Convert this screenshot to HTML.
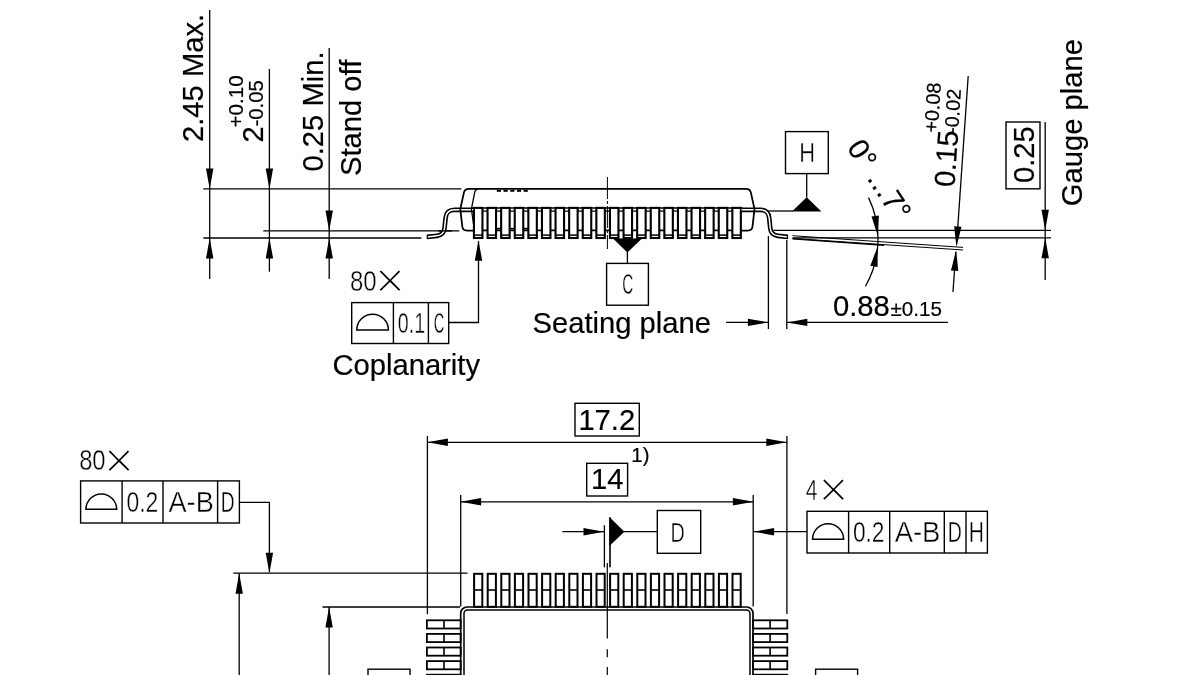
<!DOCTYPE html>
<html lang="en"><head><meta charset="utf-8"><title>Package outline drawing</title>
<style>
html,body{margin:0;padding:0;background:#fff;}
body{width:1200px;height:675px;overflow:hidden;}
svg{display:block;filter:grayscale(1);}
svg line,svg path,svg rect{stroke:#000;}
text.a{font-family:"Liberation Sans",Arial,Helvetica,sans-serif;fill:#000;stroke:#000;stroke-width:0.2px;}
text.d{font-family:"Liberation Sans",Arial,Helvetica,sans-serif;fill:#000;stroke:#fff;paint-order:fill stroke;}
</style></head><body>
<svg width="1200" height="675" viewBox="0 0 1200 675">
<rect x="0" y="0" width="1200" height="675" fill="#fff" stroke="none" style="stroke:none"/>
<line x1="203.30" y1="188.90" x2="461.30" y2="188.90" stroke-width="1.3" />
<line x1="263.30" y1="230.90" x2="459.30" y2="230.90" stroke-width="1.3" />
<line x1="203.30" y1="238.00" x2="421.30" y2="238.00" stroke-width="1.3" />
<line x1="209.70" y1="10.00" x2="209.70" y2="279.00" stroke-width="1.3" />
<line x1="269.40" y1="69.00" x2="269.40" y2="271.70" stroke-width="1.3" />
<line x1="329.20" y1="48.00" x2="329.20" y2="279.00" stroke-width="1.3" />
<polygon points="209.70,188.90 206.00,168.40 213.40,168.40" fill="#000" stroke="none"/>
<polygon points="209.70,238.00 213.40,258.50 206.00,258.50" fill="#000" stroke="none"/>
<polygon points="269.40,188.90 265.70,168.40 273.10,168.40" fill="#000" stroke="none"/>
<polygon points="269.40,238.00 273.10,258.50 265.70,258.50" fill="#000" stroke="none"/>
<polygon points="329.20,230.90 325.50,210.40 332.90,210.40" fill="#000" stroke="none"/>
<polygon points="329.20,238.00 332.90,258.50 325.50,258.50" fill="#000" stroke="none"/>
<text class="a" x="203.00" y="142.00" font-size="29.2" text-anchor="start" transform="rotate(-90 203.00 142.00)" >2.45 Max.</text>
<text class="a" x="263.30" y="142.60" font-size="29.2" text-anchor="start" transform="rotate(-90 263.30 142.60)" >2</text>
<text class="a" x="242.70" y="127.40" font-size="20.6" text-anchor="start" transform="rotate(-90 242.70 127.40)" >+0.10</text>
<text class="a" x="263.30" y="126.60" font-size="20.400000000000002" text-anchor="start" transform="rotate(-90 263.30 126.60)" >-0.05</text>
<text class="a" x="323.00" y="171.50" font-size="29.2" text-anchor="start" transform="rotate(-90 323.00 171.50)" >0.25 Min.</text>
<text class="a" x="360.70" y="176.00" font-size="29.2" text-anchor="start" transform="rotate(-90 360.70 176.00)" >Stand off</text>
<line x1="472.50" y1="207.90" x2="742.30" y2="207.90" stroke-width="1.5" />
<line x1="472.50" y1="211.20" x2="742.30" y2="211.20" stroke-width="1.3" />
<line x1="473.00" y1="230.40" x2="742.00" y2="230.40" stroke-width="1.6" />
<line x1="496.80" y1="190.80" x2="501.00" y2="190.80" stroke-width="2.0" />
<line x1="496.80" y1="228.60" x2="501.00" y2="228.60" stroke-width="1.6" />
<line x1="503.50" y1="190.80" x2="507.70" y2="190.80" stroke-width="2.0" />
<line x1="503.50" y1="228.60" x2="507.70" y2="228.60" stroke-width="1.6" />
<line x1="510.20" y1="190.80" x2="514.40" y2="190.80" stroke-width="2.0" />
<line x1="510.20" y1="228.60" x2="514.40" y2="228.60" stroke-width="1.6" />
<line x1="516.90" y1="190.80" x2="521.10" y2="190.80" stroke-width="2.0" />
<line x1="516.90" y1="228.60" x2="521.10" y2="228.60" stroke-width="1.6" />
<line x1="523.60" y1="190.80" x2="527.80" y2="190.80" stroke-width="2.0" />
<line x1="523.60" y1="228.60" x2="527.80" y2="228.60" stroke-width="1.6" />
<rect x="473.95" y="207.9" width="8.5" height="30.1" fill="#fff" stroke-width="2.1"/>
<line x1="474.10" y1="235.10" x2="482.30" y2="235.10" stroke-width="1.5" />
<rect x="487.55" y="207.9" width="8.5" height="30.1" fill="#fff" stroke-width="2.1"/>
<line x1="487.70" y1="235.10" x2="495.90" y2="235.10" stroke-width="1.5" />
<rect x="501.15" y="207.9" width="8.5" height="30.1" fill="#fff" stroke-width="2.1"/>
<line x1="501.30" y1="235.10" x2="509.50" y2="235.10" stroke-width="1.5" />
<rect x="514.75" y="207.9" width="8.5" height="30.1" fill="#fff" stroke-width="2.1"/>
<line x1="514.90" y1="235.10" x2="523.10" y2="235.10" stroke-width="1.5" />
<rect x="528.35" y="207.9" width="8.5" height="30.1" fill="#fff" stroke-width="2.1"/>
<line x1="528.50" y1="235.10" x2="536.70" y2="235.10" stroke-width="1.5" />
<rect x="541.95" y="207.9" width="8.5" height="30.1" fill="#fff" stroke-width="2.1"/>
<line x1="542.10" y1="235.10" x2="550.30" y2="235.10" stroke-width="1.5" />
<rect x="555.55" y="207.9" width="8.5" height="30.1" fill="#fff" stroke-width="2.1"/>
<line x1="555.70" y1="235.10" x2="563.90" y2="235.10" stroke-width="1.5" />
<rect x="569.15" y="207.9" width="8.5" height="30.1" fill="#fff" stroke-width="2.1"/>
<line x1="569.30" y1="235.10" x2="577.50" y2="235.10" stroke-width="1.5" />
<rect x="582.75" y="207.9" width="8.5" height="30.1" fill="#fff" stroke-width="2.1"/>
<line x1="582.90" y1="235.10" x2="591.10" y2="235.10" stroke-width="1.5" />
<rect x="596.35" y="207.9" width="8.5" height="30.1" fill="#fff" stroke-width="2.1"/>
<line x1="596.50" y1="235.10" x2="604.70" y2="235.10" stroke-width="1.5" />
<rect x="609.95" y="207.9" width="8.5" height="30.1" fill="#fff" stroke-width="2.1"/>
<line x1="610.10" y1="235.10" x2="618.30" y2="235.10" stroke-width="1.5" />
<rect x="623.55" y="207.9" width="8.5" height="30.1" fill="#fff" stroke-width="2.1"/>
<line x1="623.70" y1="235.10" x2="631.90" y2="235.10" stroke-width="1.5" />
<rect x="637.15" y="207.9" width="8.5" height="30.1" fill="#fff" stroke-width="2.1"/>
<line x1="637.30" y1="235.10" x2="645.50" y2="235.10" stroke-width="1.5" />
<rect x="650.75" y="207.9" width="8.5" height="30.1" fill="#fff" stroke-width="2.1"/>
<line x1="650.90" y1="235.10" x2="659.10" y2="235.10" stroke-width="1.5" />
<rect x="664.35" y="207.9" width="8.5" height="30.1" fill="#fff" stroke-width="2.1"/>
<line x1="664.50" y1="235.10" x2="672.70" y2="235.10" stroke-width="1.5" />
<rect x="677.95" y="207.9" width="8.5" height="30.1" fill="#fff" stroke-width="2.1"/>
<line x1="678.10" y1="235.10" x2="686.30" y2="235.10" stroke-width="1.5" />
<rect x="691.55" y="207.9" width="8.5" height="30.1" fill="#fff" stroke-width="2.1"/>
<line x1="691.70" y1="235.10" x2="699.90" y2="235.10" stroke-width="1.5" />
<rect x="705.15" y="207.9" width="8.5" height="30.1" fill="#fff" stroke-width="2.1"/>
<line x1="705.30" y1="235.10" x2="713.50" y2="235.10" stroke-width="1.5" />
<rect x="718.75" y="207.9" width="8.5" height="30.1" fill="#fff" stroke-width="2.1"/>
<line x1="718.90" y1="235.10" x2="727.10" y2="235.10" stroke-width="1.5" />
<rect x="732.35" y="207.9" width="8.5" height="30.1" fill="#fff" stroke-width="2.1"/>
<line x1="732.50" y1="235.10" x2="740.70" y2="235.10" stroke-width="1.5" />
<path d="M473.3,209.8 L454.5,209.8 C448.5,209.8 446.2,212.5 445.6,218 L444.5,228.5 C444.0,233 441.5,235.2 437.0,235.8 L427.2,236.9" stroke-width="4.7" fill="none" stroke-linecap="butt"/>
<path d="M473.3,209.8 L454.5,209.8 C448.5,209.8 446.2,212.5 445.6,218 L444.5,228.5 C444.0,233 441.5,235.2 437.0,235.8 L427.2,236.9" stroke-width="1.5" fill="none" style="stroke:#fff" stroke-linecap="butt"/>
<line x1="427.30" y1="234.80" x2="427.30" y2="239.00" stroke-width="1.2" />
<path d="M741.5,209.8 L760.3,209.8 C766.3,209.8 768.5999999999999,212.5 769.1999999999999,218 L770.3,228.5 C770.8,233 773.3,235.2 777.8,235.8 L787.5999999999999,236.9" stroke-width="4.7" fill="none" stroke-linecap="butt"/>
<path d="M741.5,209.8 L760.3,209.8 C766.3,209.8 768.5999999999999,212.5 769.1999999999999,218 L770.3,228.5 C770.8,233 773.3,235.2 777.8,235.8 L787.5999999999999,236.9" stroke-width="1.5" fill="none" style="stroke:#fff" stroke-linecap="butt"/>
<line x1="787.50" y1="234.80" x2="787.50" y2="239.00" stroke-width="1.2" />
<line x1="438.00" y1="230.90" x2="452.00" y2="230.90" stroke-width="1.3" />
<path d="M607.4,188.9 L468.8,188.9 Q464.8,188.9 463.9,192.6 L460.3,209 L462.3,226.5 Q462.8,230.6 467.0,230.6 L473.3,230.6" stroke-width="1.8" fill="none" />
<path d="M478.5,188.9 Q475.5,189.1 474.8,191.9 L471.4,209 L473.5,224" stroke-width="1.3" fill="none" />
<path d="M607.4,188.9 L746.0,188.9 Q750.0,188.9 750.9,192.6 L754.5,209 L752.5,226.5 Q752.0,230.6 747.8,230.6 L741.5,230.6" stroke-width="1.8" fill="none" />
<line x1="607.40" y1="177.00" x2="607.40" y2="249.00" stroke-width="1.0" stroke-dasharray="22 2 3 2"/>
<polygon points="613,238.6 642,238.6 627.4,252.4" fill="#000" stroke="none"/>
<line x1="627.40" y1="252.00" x2="627.40" y2="263.00" stroke-width="1.3" />
<rect x="606.60" y="263.40" width="41.80" height="41.80" stroke-width="1.4" fill="none"/>
<text class="d" transform="translate(622.14 293.90) scale(0.5104 1)" font-size="29.86" stroke-width="0.4">C</text>
<line x1="767.00" y1="211.00" x2="793.00" y2="211.00" stroke-width="1.3" />
<polygon points="792,211.4 821.4,211.4 806.7,197.2" fill="#000" stroke="none"/>
<line x1="806.70" y1="197.50" x2="806.70" y2="173.50" stroke-width="1.3" />
<rect x="785.50" y="131.60" width="42.80" height="42.00" stroke-width="1.4" fill="none"/>
<text class="d" transform="translate(799.26 162.00) scale(0.7912 1)" font-size="27.54" stroke-width="0.4">H</text>
<text class="d" transform="translate(349.92 290.80) scale(0.8364 1)" font-size="28.70" stroke-width="0.4">80</text>
<text class="d" x="374.65" y="298.03" font-size="52.13" stroke-width="1.9">×</text>
<rect x="351.70" y="302.60" width="97.00" height="40.90" stroke-width="1.4" fill="none"/>
<line x1="393.40" y1="302.60" x2="393.40" y2="343.50" stroke-width="1.4" />
<line x1="428.40" y1="302.60" x2="428.40" y2="343.50" stroke-width="1.4" />
<path d="M356.8,330 A15.799999999999983,15.799999999999983 0 0 1 388.4,330 Z" stroke-width="1.5" fill="none" />
<text class="d" transform="translate(397.71 332.80) scale(0.6862 1)" font-size="28.70" stroke-width="0.4">0.1</text>
<text class="d" transform="translate(433.77 332.80) scale(0.5089 1)" font-size="28.70" stroke-width="0.4">C</text>
<path d="M448.7,322.5 L478.5,322.5 L478.5,241" stroke-width="1.3" fill="none" />
<polygon points="478.50,240.20 482.20,260.70 474.80,260.70" fill="#000" stroke="none"/>
<text class="a" x="332.40" y="375.00" font-size="29.2" text-anchor="start" >Coplanarity</text>
<text class="a" x="532.50" y="332.50" font-size="29.2" text-anchor="start" >Seating plane</text>
<line x1="726.00" y1="322.40" x2="768.40" y2="322.40" stroke-width="1.3" />
<polygon points="768.40,322.40 747.90,326.10 747.90,318.70" fill="#000" stroke="none"/>
<line x1="786.80" y1="322.40" x2="948.00" y2="322.40" stroke-width="1.3" />
<polygon points="786.80,322.40 807.30,318.70 807.30,326.10" fill="#000" stroke="none"/>
<line x1="768.40" y1="236.00" x2="768.40" y2="329.00" stroke-width="1.3" />
<line x1="786.80" y1="240.00" x2="786.80" y2="329.00" stroke-width="1.3" />
<text class="a" x="833.00" y="316.00" font-size="29.2" text-anchor="start" >0.88</text>
<text class="a" x="890.50" y="316.00" font-size="20.6" text-anchor="start" >±0.15</text>
<line x1="773.50" y1="230.30" x2="1051.00" y2="230.30" stroke-width="1.3" />
<line x1="792.50" y1="237.80" x2="1051.00" y2="237.80" stroke-width="1.3" />
<line x1="792.50" y1="235.70" x2="963.00" y2="247.40" stroke-width="1.0" />
<line x1="792.50" y1="238.40" x2="963.00" y2="250.00" stroke-width="1.0" />
<line x1="792.50" y1="238.90" x2="884.00" y2="245.30" stroke-width="1.4" />
<path d="M868.53,197.65 A95,95 0 0 1 865.44,286.21" stroke-width="1.3" fill="none" />
<polygon points="877.96,236.35 871.52,216.54 878.85,215.54" fill="#000" stroke="none"/>
<polygon points="877.72,246.29 877.59,267.12 870.32,265.76" fill="#000" stroke="none"/>
<text class="a" x="846.20" y="147.80" font-size="29.2" text-anchor="start" transform="rotate(56.5 846.20 147.80)" letter-spacing="0.25">0° ...7°</text>
<line x1="968.20" y1="76.00" x2="956.60" y2="244.00" stroke-width="1.3" />
<polygon points="956.40,247.00 954.15,226.29 961.53,226.81" fill="#000" stroke="none"/>
<line x1="953.00" y1="292.00" x2="955.80" y2="252.00" stroke-width="1.3" />
<polygon points="956.10,250.20 958.35,270.91 950.97,270.39" fill="#000" stroke="none"/>
<text class="a" x="954.40" y="187.60" font-size="29.2" text-anchor="start" transform="rotate(-86 954.40 187.60)" >0.15</text>
<text class="a" x="937.60" y="133.00" font-size="19.8" text-anchor="start" transform="rotate(-86 937.60 133.00)" >+0.08</text>
<text class="a" x="958.00" y="134.20" font-size="19.8" text-anchor="start" transform="rotate(-86 958.00 134.20)" >-0.02</text>
<rect x="1006.00" y="122.00" width="34.00" height="66.80" stroke-width="1.4" fill="none"/>
<text class="a" x="1034.00" y="183.00" font-size="29.2" text-anchor="start" transform="rotate(-90 1034.00 183.00)" >0.25</text>
<line x1="1045.20" y1="122.00" x2="1045.20" y2="280.00" stroke-width="1.3" />
<polygon points="1045.20,230.30 1041.50,209.80 1048.90,209.80" fill="#000" stroke="none"/>
<polygon points="1045.20,237.80 1048.90,258.30 1041.50,258.30" fill="#000" stroke="none"/>
<text class="a" x="1082.00" y="206.20" font-size="29.2" text-anchor="start" transform="rotate(-90 1082.00 206.20)" >Gauge plane</text>
<line x1="427.40" y1="436.00" x2="427.40" y2="614.20" stroke-width="1.3" />
<line x1="786.90" y1="436.00" x2="786.90" y2="614.00" stroke-width="1.3" />
<line x1="427.40" y1="442.30" x2="786.80" y2="442.30" stroke-width="1.3" />
<polygon points="427.40,442.30 447.90,438.60 447.90,446.00" fill="#000" stroke="none"/>
<polygon points="786.80,442.30 766.30,446.00 766.30,438.60" fill="#000" stroke="none"/>
<rect x="575.00" y="403.30" width="64.30" height="32.70" stroke-width="1.4" fill="none"/>
<text class="a" x="606.80" y="429.90" font-size="29.2" text-anchor="middle" >17.2</text>
<line x1="460.70" y1="495.00" x2="460.70" y2="606.50" stroke-width="1.3" />
<line x1="753.20" y1="495.00" x2="753.20" y2="606.50" stroke-width="1.3" />
<line x1="460.60" y1="501.80" x2="753.40" y2="501.80" stroke-width="1.3" />
<polygon points="460.60,501.80 481.10,498.10 481.10,505.50" fill="#000" stroke="none"/>
<polygon points="753.40,501.80 732.90,505.50 732.90,498.10" fill="#000" stroke="none"/>
<rect x="586.70" y="463.30" width="40.90" height="32.70" stroke-width="1.4" fill="none"/>
<text class="a" x="607.20" y="489.20" font-size="29.2" text-anchor="middle" >14</text>
<text class="a" x="631.30" y="461.90" font-size="20.400000000000002" text-anchor="start" >1)</text>
<line x1="562.30" y1="531.70" x2="604.00" y2="531.70" stroke-width="1.3" />
<polygon points="604.00,531.70 583.50,535.40 583.50,528.00" fill="#000" stroke="none"/>
<line x1="604.40" y1="525.30" x2="604.40" y2="567.30" stroke-width="1.3" />
<line x1="610.00" y1="517.30" x2="610.00" y2="567.30" stroke-width="1.6" />
<polygon points="609.4,517 624.4,531.7 609.4,546" fill="#000" stroke="none"/>
<line x1="624.00" y1="531.70" x2="657.30" y2="531.70" stroke-width="1.3" />
<rect x="657.30" y="510.50" width="43.40" height="42.80" stroke-width="1.4" fill="none"/>
<text class="d" transform="translate(670.41 541.60) scale(0.7202 1)" font-size="27.54" stroke-width="0.4">D</text>
<line x1="607.30" y1="563.00" x2="607.30" y2="676.00" stroke-width="1.2" stroke-dasharray="75.6 10.7 8 9.7"/>
<text class="d" transform="translate(805.87 499.70) scale(0.7388 1)" font-size="28.70" stroke-width="0.4">4</text>
<text class="d" x="818.25" y="507.03" font-size="52.13" stroke-width="1.9">×</text>
<rect x="807.00" y="511.30" width="180.40" height="41.70" stroke-width="1.4" fill="none"/>
<line x1="848.60" y1="511.30" x2="848.60" y2="553.00" stroke-width="1.4" />
<line x1="889.70" y1="511.30" x2="889.70" y2="553.00" stroke-width="1.4" />
<line x1="944.30" y1="511.30" x2="944.30" y2="553.00" stroke-width="1.4" />
<line x1="966.00" y1="511.30" x2="966.00" y2="553.00" stroke-width="1.4" />
<path d="M812.6,539.3 A15.5,15.5 0 0 1 843.6,539.3 Z" stroke-width="1.5" fill="none" />
<text class="d" transform="translate(852.89 542.00) scale(0.7935 1)" font-size="28.70" stroke-width="0.4">0.2</text>
<text class="d" transform="translate(894.66 542.00) scale(0.9567 1)" font-size="28.70" stroke-width="0.4">A-B</text>
<text class="d" transform="translate(947.64 542.00) scale(0.6794 1)" font-size="28.70" stroke-width="0.4">D</text>
<text class="d" transform="translate(968.71 542.00) scale(0.7343 1)" font-size="28.70" stroke-width="0.4">H</text>
<line x1="806.70" y1="531.70" x2="754.00" y2="531.70" stroke-width="1.3" />
<polygon points="753.60,531.70 774.10,528.00 774.10,535.40" fill="#000" stroke="none"/>
<text class="d" transform="translate(79.13 470.20) scale(0.8296 1)" font-size="28.70" stroke-width="0.4">80</text>
<text class="d" x="103.65" y="477.53" font-size="52.13" stroke-width="1.9">×</text>
<rect x="80.60" y="480.90" width="158.80" height="42.10" stroke-width="1.4" fill="none"/>
<line x1="122.10" y1="480.90" x2="122.10" y2="523.00" stroke-width="1.4" />
<line x1="163.00" y1="480.90" x2="163.00" y2="523.00" stroke-width="1.4" />
<line x1="217.60" y1="480.90" x2="217.60" y2="523.00" stroke-width="1.4" />
<path d="M85.9,509.3 A15.399999999999999,15.399999999999999 0 0 1 116.7,509.3 Z" stroke-width="1.5" fill="none" />
<text class="d" transform="translate(126.38 511.90) scale(0.7988 1)" font-size="28.70" stroke-width="0.4">0.2</text>
<text class="d" transform="translate(168.46 511.90) scale(0.9481 1)" font-size="28.70" stroke-width="0.4">A-B</text>
<text class="d" transform="translate(220.67 511.90) scale(0.6677 1)" font-size="28.70" stroke-width="0.4">D</text>
<path d="M240,502.3 L269.4,502.3 L269.4,572" stroke-width="1.3" fill="none" />
<polygon points="269.40,573.20 265.70,552.70 273.10,552.70" fill="#000" stroke="none"/>
<line x1="233.20" y1="573.20" x2="467.50" y2="573.20" stroke-width="1.3" />
<line x1="239.20" y1="573.20" x2="239.20" y2="675.00" stroke-width="1.3" />
<polygon points="239.20,573.20 242.90,593.70 235.50,593.70" fill="#000" stroke="none"/>
<line x1="322.50" y1="607.00" x2="460.00" y2="607.00" stroke-width="1.3" />
<line x1="329.10" y1="607.00" x2="329.10" y2="675.00" stroke-width="1.3" />
<polygon points="329.10,607.00 332.80,627.50 325.40,627.50" fill="#000" stroke="none"/>
<rect x="368.00" y="669.20" width="42.00" height="30.80" stroke-width="1.4" fill="none"/>
<rect x="815.60" y="669.20" width="42.00" height="30.80" stroke-width="1.4" fill="none"/>
<rect x="460.7" y="607.0" width="292.3" height="120" rx="6.3" ry="6.3" fill="none" stroke-width="1.7"/>
<rect x="464.0" y="609.9" width="286" height="120" rx="3.5" ry="3.5" fill="none" stroke-width="1.5"/>
<rect x="474.10" y="573.8" width="8.2" height="33" fill="none" stroke-width="2.0"/>
<line x1="474.10" y1="590.00" x2="482.30" y2="590.00" stroke-width="1.6" />
<rect x="487.70" y="573.8" width="8.2" height="33" fill="none" stroke-width="2.0"/>
<line x1="487.70" y1="590.00" x2="495.90" y2="590.00" stroke-width="1.6" />
<rect x="501.30" y="573.8" width="8.2" height="33" fill="none" stroke-width="2.0"/>
<line x1="501.30" y1="590.00" x2="509.50" y2="590.00" stroke-width="1.6" />
<rect x="514.90" y="573.8" width="8.2" height="33" fill="none" stroke-width="2.0"/>
<line x1="514.90" y1="590.00" x2="523.10" y2="590.00" stroke-width="1.6" />
<rect x="528.50" y="573.8" width="8.2" height="33" fill="none" stroke-width="2.0"/>
<line x1="528.50" y1="590.00" x2="536.70" y2="590.00" stroke-width="1.6" />
<rect x="542.10" y="573.8" width="8.2" height="33" fill="none" stroke-width="2.0"/>
<line x1="542.10" y1="590.00" x2="550.30" y2="590.00" stroke-width="1.6" />
<rect x="555.70" y="573.8" width="8.2" height="33" fill="none" stroke-width="2.0"/>
<line x1="555.70" y1="590.00" x2="563.90" y2="590.00" stroke-width="1.6" />
<rect x="569.30" y="573.8" width="8.2" height="33" fill="none" stroke-width="2.0"/>
<line x1="569.30" y1="590.00" x2="577.50" y2="590.00" stroke-width="1.6" />
<rect x="582.90" y="573.8" width="8.2" height="33" fill="none" stroke-width="2.0"/>
<line x1="582.90" y1="590.00" x2="591.10" y2="590.00" stroke-width="1.6" />
<rect x="596.50" y="573.8" width="8.2" height="33" fill="none" stroke-width="2.0"/>
<line x1="596.50" y1="590.00" x2="604.70" y2="590.00" stroke-width="1.6" />
<rect x="610.10" y="573.8" width="8.2" height="33" fill="none" stroke-width="2.0"/>
<line x1="610.10" y1="590.00" x2="618.30" y2="590.00" stroke-width="1.6" />
<rect x="623.70" y="573.8" width="8.2" height="33" fill="none" stroke-width="2.0"/>
<line x1="623.70" y1="590.00" x2="631.90" y2="590.00" stroke-width="1.6" />
<rect x="637.30" y="573.8" width="8.2" height="33" fill="none" stroke-width="2.0"/>
<line x1="637.30" y1="590.00" x2="645.50" y2="590.00" stroke-width="1.6" />
<rect x="650.90" y="573.8" width="8.2" height="33" fill="none" stroke-width="2.0"/>
<line x1="650.90" y1="590.00" x2="659.10" y2="590.00" stroke-width="1.6" />
<rect x="664.50" y="573.8" width="8.2" height="33" fill="none" stroke-width="2.0"/>
<line x1="664.50" y1="590.00" x2="672.70" y2="590.00" stroke-width="1.6" />
<rect x="678.10" y="573.8" width="8.2" height="33" fill="none" stroke-width="2.0"/>
<line x1="678.10" y1="590.00" x2="686.30" y2="590.00" stroke-width="1.6" />
<rect x="691.70" y="573.8" width="8.2" height="33" fill="none" stroke-width="2.0"/>
<line x1="691.70" y1="590.00" x2="699.90" y2="590.00" stroke-width="1.6" />
<rect x="705.30" y="573.8" width="8.2" height="33" fill="none" stroke-width="2.0"/>
<line x1="705.30" y1="590.00" x2="713.50" y2="590.00" stroke-width="1.6" />
<rect x="718.90" y="573.8" width="8.2" height="33" fill="none" stroke-width="2.0"/>
<line x1="718.90" y1="590.00" x2="727.10" y2="590.00" stroke-width="1.6" />
<rect x="732.50" y="573.8" width="8.2" height="33" fill="none" stroke-width="2.0"/>
<line x1="732.50" y1="590.00" x2="740.70" y2="590.00" stroke-width="1.6" />
<rect x="426.90" y="620.30" width="33.8" height="8.2" fill="none" stroke-width="1.8"/>
<line x1="444.00" y1="620.30" x2="444.00" y2="628.50" stroke-width="1.6" />
<rect x="753.00" y="620.30" width="34.3" height="8.2" fill="none" stroke-width="1.8"/>
<line x1="770.10" y1="620.30" x2="770.10" y2="628.50" stroke-width="1.6" />
<rect x="426.90" y="633.90" width="33.8" height="8.2" fill="none" stroke-width="1.8"/>
<line x1="444.00" y1="633.90" x2="444.00" y2="642.10" stroke-width="1.6" />
<rect x="753.00" y="633.90" width="34.3" height="8.2" fill="none" stroke-width="1.8"/>
<line x1="770.10" y1="633.90" x2="770.10" y2="642.10" stroke-width="1.6" />
<rect x="426.90" y="647.50" width="33.8" height="8.2" fill="none" stroke-width="1.8"/>
<line x1="444.00" y1="647.50" x2="444.00" y2="655.70" stroke-width="1.6" />
<rect x="753.00" y="647.50" width="34.3" height="8.2" fill="none" stroke-width="1.8"/>
<line x1="770.10" y1="647.50" x2="770.10" y2="655.70" stroke-width="1.6" />
<rect x="426.90" y="661.10" width="33.8" height="8.2" fill="none" stroke-width="1.8"/>
<line x1="444.00" y1="661.10" x2="444.00" y2="669.30" stroke-width="1.6" />
<rect x="753.00" y="661.10" width="34.3" height="8.2" fill="none" stroke-width="1.8"/>
<line x1="770.10" y1="661.10" x2="770.10" y2="669.30" stroke-width="1.6" />
<rect x="426.90" y="674.70" width="33.8" height="8.2" fill="none" stroke-width="1.8"/>
<line x1="444.00" y1="674.70" x2="444.00" y2="682.90" stroke-width="1.6" />
<rect x="753.00" y="674.70" width="34.3" height="8.2" fill="none" stroke-width="1.8"/>
<line x1="770.10" y1="674.70" x2="770.10" y2="682.90" stroke-width="1.6" />
</svg>
</body></html>
